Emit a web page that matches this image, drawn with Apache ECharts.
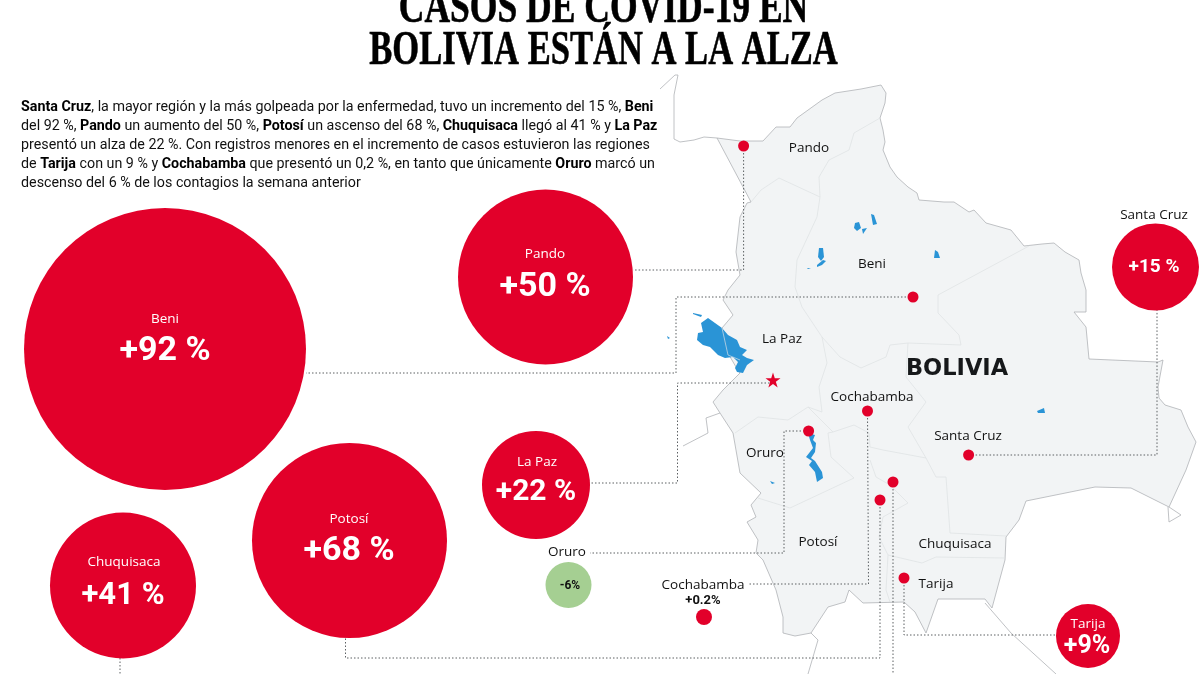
<!DOCTYPE html>
<html>
<head>
<meta charset="utf-8">
<title>Casos de covid-19 en Bolivia</title>
<script src="https://cdn.jsdelivr.net/npm/echarts@6/dist/echarts.min.js"></script>
<style>
  html, body { margin: 0; background: #fff; }
  #chart { width: 1200px; height: 674px; }
</style>
</head>
<body>
<div id="chart"></div>
<script>
// regions and their weekly change in cases
const regions = ['Beni', 'Pando', 'Potosí', 'Chuquisaca', 'La Paz', 'Santa Cruz', 'Tarija', 'Oruro', 'Cochabamba'];
const changes = [92, 50, 68, 41, 22, 15, 9, -6, 0.2];
const changeLabels = ['+92 %', '+50 %', '+68 %', '+41 %', '+22 %', '+15 %', '+9%', '-6%', '+0.2%'];

// bubble placement on the page
const bubbleX = [165, 545.5, 349.5, 123, 536, 1155.5, 1088, 568.5, 704];
const bubbleY = [349, 277, 540.5, 585.5, 485, 267, 636, 585, 617];
const bubbleRadius = [141, 87.5, 97.5, 73, 54, 43.5, 32, 23, 8];
const nameX = [165, 545, 349, 124, 537, 1154, 1088, 567, 703];
const nameY = [319, 254, 519, 562, 462, 215, 624, 552, 585];
const valueX = [165, 545, 349, 123, 536, 1154, 1087, 570, 703];
const valueY = [351, 287, 551, 596, 492, 267, 647, 586, 601];
const valueSize = [34, 34, 34, 31, 30, 19, 25, 12, 13];

// map labels
const mapNames = ['Pando', 'Beni', 'La Paz', 'Cochabamba', 'Santa Cruz', 'Oruro', 'Potosí', 'Chuquisaca', 'Tarija'];
const mapNameX = [809, 872, 782, 872, 968, 765, 818, 955, 936];
const mapNameY = [148, 264, 339, 397, 436, 453, 542, 544, 584];

// capital dots
const dotX = [743.6, 913, 867.5, 808.6, 968.6, 893, 880, 904];
const dotY = [146, 297, 411, 431, 455, 482, 500, 578];
const starPoint = [773, 380];

const countryOutline = [[717,138],[740,141],[763,141],[776,127],[790,127],[797,118],[822,100],[835,93],[861,89],[881,85],[886,93],[885,103],[880,118],[883,130],[885,142],[883,150],[890,167],[897,177],[908,187],[917,193],[919,200],[944,202],[954,202],[969,212],[974,210],[986,223],[1011,230],[1024,246],[1042,244],[1054,243],[1065,252],[1079,260],[1081,273],[1086,290],[1086,312],[1074,312],[1086,327],[1089,359],[1158,362],[1163,360],[1158,387],[1159,398],[1165,405],[1181,410],[1188,427],[1196,442],[1186,470],[1169,507],[1131,488],[1095,487],[1026,501],[1019,520],[1006,537],[1005,560],[992,608],[985,599],[938,599],[926,633],[915,612],[904,602],[863,603],[849,590],[845,602],[828,607],[811,633],[795,636],[783,633],[783,617],[776,590],[763,560],[756,553],[758,540],[747,522],[756,517],[751,505],[761,493],[740,473],[733,433],[720,413],[713,402],[723,390],[740,373],[736,367],[729,355],[722,328],[733,315],[723,300],[728,290],[740,275],[736,252],[740,217],[747,203],[751,202]];

const outsideLines = [
  [[660,89],[675,75],[678,75],[674,95],[674,139],[680,142],[694,140],[704,137],[717,138]],
  [[811,633],[818,640],[808,674]],
  [[985,603],[1011,633],[1056,674]],
  [[1169,507],[1181,515],[1169,522],[1168,507]],
  [[720,413],[706,418],[708,433],[683,446]]
];

const departmentLines = [
  [[880,118],[854,133],[849,150],[829,160],[819,177],[820,197],[779,178],[761,190],[751,202]],
  [[820,197],[817,217],[797,260],[795,287],[802,307],[822,337],[827,363],[819,387],[822,412],[808,407],[788,420],[758,417],[735,433]],
  [[822,337],[840,357],[861,368],[886,357],[890,345],[908,343],[961,345],[959,335],[938,313],[938,295],[1029,246]],
  [[908,343],[906,377],[926,402],[908,427],[926,458],[936,477],[946,477],[950,533],[1006,536]],
  [[808,407],[833,432],[854,425],[869,433],[870,447],[883,450],[926,458]],
  [[758,498],[790,508],[854,478],[831,457],[828,433],[833,432]],
  [[870,460],[876,477],[890,485],[908,503],[883,517],[879,537],[888,555],[886,590],[890,602]],
  [[888,555],[922,563],[936,557],[1005,558]]
];

const lakes = [
  [[701,323],[708,318],[715,323],[722,328],[728,335],[737,340],[740,347],[747,350],[742,355],[747,358],[754,360],[747,365],[743,373],[737,372],[735,368],[738,362],[733,357],[725,358],[718,355],[710,347],[703,345],[697,340],[698,333],[703,332]],
  [[693,313],[702,315],[701,317],[693,314]],
  [[808,433],[815,435],[813,440],[816,443],[815,452],[811,458],[815,461],[822,472],[823,478],[817,482],[815,472],[809,465],[812,461],[806,457],[813,448],[810,440]],
  [[855,223],[859,222],[861,228],[857,231],[854,228]],
  [[871,214],[874,215],[877,224],[873,225]],
  [[862,229],[867,228],[863,234]],
  [[819,248],[823,248],[824,257],[821,261],[818,257]],
  [[823,260],[826,261],[822,265],[817,267],[817,265]],
  [[807,268],[811,268],[808,269]],
  [[935,250],[938,252],[940,258],[934,258]],
  [[1037,411],[1044,408],[1045,413],[1038,413]],
  [[770,481],[775,483],[772,484]],
  [[667,336],[670,338],[668,339]]
];
const lakeBorder = [[[722,328],[728,355],[740,360]]];

// dotted leader lines between map dots and bubbles
const leaders = [
  [[743.6,146],[743.6,270],[633,270]],
  [[913,297],[676,297],[676,373],[306,373]],
  [[773,383],[677.5,383],[677.5,483],[590,483]],
  [[808,431],[784,431],[784,553],[590,553]],
  [[867.5,411],[868.5,584],[749,584]],
  [[880,500],[880,658],[345.5,658],[345.5,638]],
  [[893,482],[893,674]],
  [[120,658],[120,674]],
  [[968.6,455],[1157,455],[1157,310]],
  [[904,578],[904,635],[1056,635]]
];

const titleLines = ['CASOS DE COVID-19 EN', 'BOLIVIA ESTÁN A LA ALZA'];
const titleScale = [0.74, 0.72];
const bodyLines = [
  '{b|Santa Cruz}, la mayor región y la más golpeada por la enfermedad, tuvo un incremento del 15 %, {b|Beni}',
  'del 92 %, {b|Pando} un aumento del 50 %, {b|Potosí} un ascenso del 68 %, {b|Chuquisaca} llegó al 41 % y {b|La Paz}',
  'presentó un alza de 22 %. Con registros menores en el incremento de casos estuvieron las regiones',
  'de {b|Tarija} con un 9 % y {b|Cochabamba} que presentó un 0,2 %, en tanto que únicamente {b|Oruro} marcó un',
  'descenso del 6 % de los contagios la semana anterior'
];
const bodyY = [107, 126, 145, 164, 183];

const RED = '#e2002a';
const GREEN = '#a5cf92';
const NAME_FONT = '"Open Sans", Roboto, sans-serif';
const VALUE_FONT = 'Roboto, sans-serif';

const chart = echarts.init(document.getElementById('chart'), null, { renderer: 'canvas' });

const shapeSeries = (list, style, type) => ({
  type: 'custom',
  silent: true,
  z: 1,
  data: list.map((_, i) => [i]),
  renderItem: (params, api) => ({
    type: type,
    shape: { points: list[api.value(0)].map(p => api.coord(p)) },
    style: style
  })
});

const labelSeries = data => ({
  type: 'scatter',
  silent: true,
  symbolSize: 0,
  z: 6,
  itemStyle: { opacity: 1 },
  data: data
});

const textPoint = (x, y, text, size, color, weight, family) => ({
  value: [x, y],
  label: {
    show: true,
    position: 'inside',
    align: 'center',
    verticalAlign: 'middle',
    formatter: text,
    fontSize: size,
    color: color,
    fontWeight: weight || 'normal',
    fontFamily: family || NAME_FONT
  }
});

const option = {
  animation: false,
  backgroundColor: '#fff',
  grid: { left: 0, right: 0, top: 0, bottom: 0 },
  xAxis: { type: 'value', min: 0, max: 1200, show: false },
  yAxis: { type: 'value', min: 0, max: 674, inverse: true, show: false },
  series: [
    shapeSeries([countryOutline], { fill: '#f2f4f5', stroke: '#b0b3b6', lineWidth: 0.8 }, 'polygon'),
    shapeSeries(outsideLines, { fill: 'none', stroke: '#b0b3b6', lineWidth: 0.8 }, 'polyline'),
    shapeSeries(departmentLines, { fill: 'none', stroke: '#e0e3e5', lineWidth: 0.8 }, 'polyline'),
    shapeSeries(lakes, { fill: '#2a94d6' }, 'polygon'),
    shapeSeries(lakeBorder, { fill: 'none', stroke: '#c3d6e3', lineWidth: 0.8 }, 'polyline'),
    ...leaders.map(points => ({
      type: 'line',
      silent: true,
      z: 2,
      symbol: 'none',
      data: points,
      lineStyle: { color: '#5c6063', width: 1, type: [1.5, 2] }
    })),
    {
      type: 'scatter',
      name: 'Cambio',
      silent: true,
      z: 3,
      symbolSize: (value, params) => bubbleRadius[params.dataIndex] * 2,
      data: regions.map((name, i) => ({
        name: name,
        value: [bubbleX[i], bubbleY[i], changes[i]],
        itemStyle: { color: changes[i] < 0 ? GREEN : RED, opacity: 1 }
      }))
    },
    {
      type: 'scatter',
      silent: true,
      z: 4,
      symbolSize: 11,
      itemStyle: { color: RED, opacity: 1 },
      data: dotX.map((x, i) => [x, dotY[i]])
    },
    {
      type: 'scatter',
      silent: true,
      z: 4,
      symbol: 'path://M50 0 L62 36 L100 36 L69 59 L81 95 L50 73 L19 95 L31 59 L0 36 L38 36 Z',
      symbolSize: 15,
      itemStyle: { color: RED, opacity: 1 },
      data: [starPoint]
    },
    labelSeries(regions.map((name, i) => {
      const inside = !['Santa Cruz', 'Oruro', 'Cochabamba'].includes(name);
      return textPoint(nameX[i], nameY[i], name, 13.5, inside ? '#fff' : '#111');
    })),
    labelSeries(changeLabels.map((text, i) => {
      const dark = changes[i] < 1;
      return textPoint(valueX[i], valueY[i], text, valueSize[i], dark ? '#111' : '#fff', 'bold', VALUE_FONT);
    })),
    labelSeries(mapNames.map((name, i) => textPoint(mapNameX[i], mapNameY[i], name, 13.5, '#111'))),
    labelSeries([textPoint(957, 369, 'BOLIVIA', 22.5, '#16181a', 'bold', '"DejaVu Sans"')])
  ],
  graphic: [
    ...titleLines.map((text, i) => ({
      type: 'text',
      x: 603.5,
      y: i === 0 ? 10 : 52,
      scaleX: titleScale[i],
      style: {
        text: text,
        fill: '#000',
        stroke: '#000',
        lineWidth: 0.6,
        fontFamily: '"Liberation Serif", serif',
        fontWeight: 'bold',
        fontSize: 48,
        textAlign: 'center',
        textVerticalAlign: 'middle'
      }
    })),
    ...bodyLines.map((text, i) => ({
      type: 'text',
      x: 21,
      y: bodyY[i],
      scaleX: 0.952,
      style: {
        text: text,
        fill: '#111',
        fontFamily: 'Roboto, sans-serif',
        fontSize: 15,
        textVerticalAlign: 'middle',
        rich: {
          b: { fontFamily: 'Roboto, sans-serif', fontSize: 15, fontWeight: 'bold', fill: '#000' }
        }
      }
    }))
  ]
};

chart.setOption(option);
window.addEventListener('resize', () => chart.resize());
</script>
</body>
</html>
